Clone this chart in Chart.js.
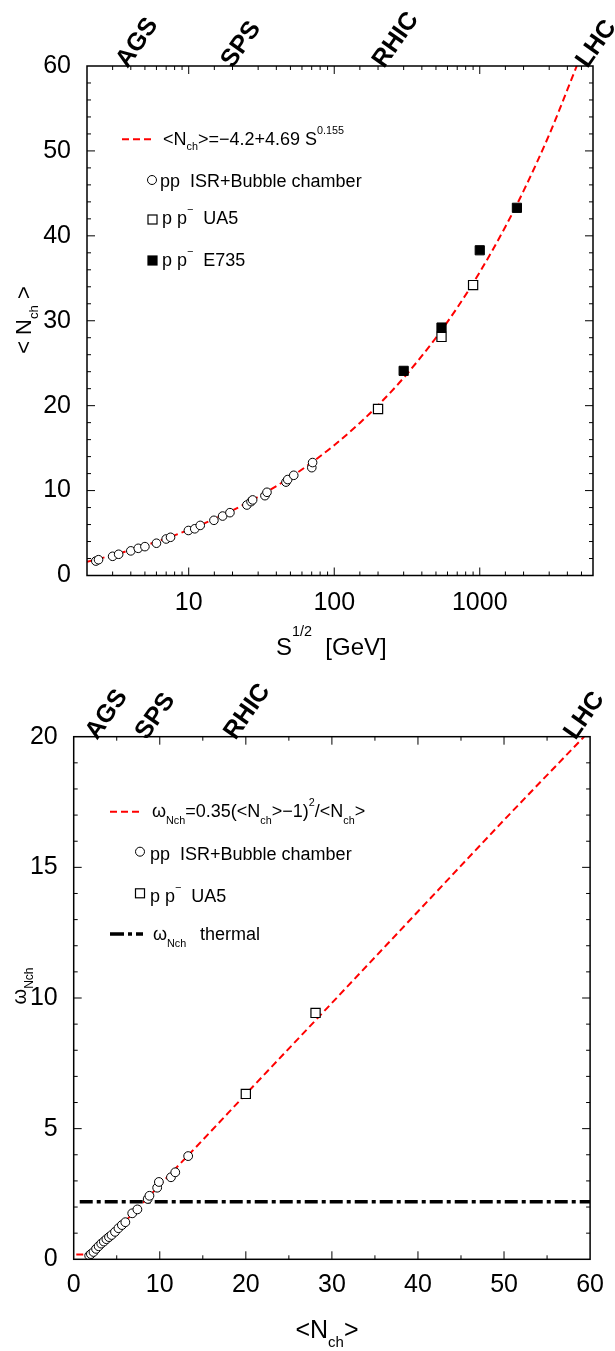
<!DOCTYPE html>
<html>
<head>
<meta charset="utf-8">
<script src="https://cdn.jsdelivr.net/npm/chart.js@4.4.1/dist/chart.umd.min.js"></script>
<style>
  body { margin: 0; background: #fff; }
  canvas { display: block; }
</style>
</head>
<body>
<canvas id="multChart" width="615" height="680"></canvas>
<canvas id="omegaChart" width="615" height="671"></canvas>
<script>
// ---- top panel: <Nch> vs sqrt(s) ----
const isrEnergy = [2.3, 2.4, 3.0, 3.3, 4.0, 4.5, 5.0, 6.0, 7.0, 7.5, 9.95, 11.0, 12.0, 14.9, 17.1, 19.2, 25.1, 26.8, 27.5, 33.4, 34.5, 46.6, 47.9, 52.7, 70.1, 71.0];
const isrMult = [1.7, 1.86, 2.26, 2.5, 2.9, 3.2, 3.4, 3.8, 4.3, 4.5, 5.3, 5.5, 5.9, 6.5, 7.0, 7.4, 8.3, 8.7, 8.9, 9.4, 9.8, 11.0, 11.3, 11.8, 12.7, 13.3];
const ua5Energy = [200, 546, 900];
const ua5Mult = [19.6, 28.1, 34.2];
const e735Energy = [300, 546, 1000, 1800];
const e735Mult = [24.1, 29.2, 38.3, 43.3];
const fitEnergy = [2, 3, 5, 7, 10, 15, 20, 30, 50, 70, 100, 150, 200, 300, 500, 700, 1000, 1500, 2000, 3000, 4640];
const fitMult = [1.61, 2.39, 3.52, 4.37, 5.38, 6.66, 7.67, 9.26, 11.57, 13.3, 15.35, 17.97, 20.04, 23.28, 28.0, 31.54, 35.72, 41.07, 45.29, 51.91, 60.0];
const energyTickLabels = [10, 100, 1000];
const multTickLabels = [0, 10, 20, 30, 40, 50, 60];

// ---- bottom panel: omega vs <Nch> ----
const isrOmegaN = [1.8, 2.0, 2.3, 2.6, 2.9, 3.2, 3.5, 3.8, 4.1, 4.4, 4.8, 5.2, 5.6, 6.0, 6.8, 7.4, 8.6, 8.8, 9.7, 9.9, 11.3, 11.8, 13.3];
const isrOmega = [0.14, 0.2, 0.28, 0.4, 0.5, 0.6, 0.68, 0.77, 0.85, 0.93, 1.05, 1.19, 1.31, 1.42, 1.76, 1.91, 2.31, 2.43, 2.74, 2.96, 3.14, 3.33, 3.95];
const ua5OmegaN = [20.0, 28.1];
const ua5Omega = [6.33, 9.43];
const fitOmegaN = [0.3, 2, 3, 5, 7, 10, 15, 20, 30, 40, 50, 59.3];
const fitOmega = [0.18, 0.2, 0.47, 1.12, 1.8, 2.84, 4.57, 6.32, 9.81, 13.31, 16.81, 20.0];
const thermalN = [0.7, 60];
const thermalOmega = [2.2, 2.2];
const nchTickLabels = [0, 10, 20, 30, 40, 50, 60];
const omegaTickLabels = [0, 5, 10, 15, 20];

// accelerator labels along the top edges
const machines = ['AGS', 'SPS', 'RHIC', 'LHC'];
const machineEnergy = [3.8, 20, 220, 5500];
const machineNch = [2.7, 8.5, 18.8, 58.3];

const NARROW = "'Liberation Sans Narrow', 'Liberation Sans', Arial, sans-serif";
const SANS = "'Liberation Sans', Arial, sans-serif";

function pts(xs, ys) {
    return xs.map((x, i) => ({ x: x, y: ys[i] }));
}

// text with sub/superscripts: parts = [[text, 0 normal | -1 sub | 1 sup], ...]
function rich(ctx, parts, x, y, size, o = {}) {
    const sub = o.sub ?? 0.3, sup = o.sup ?? 0.6, fam = o.family || SANS;
    const fontOf = k => (k ? size * 0.6 : size) + 'px ' + fam;
    ctx.textBaseline = 'alphabetic';
    ctx.textAlign = 'left';
    ctx.fillStyle = '#000';
    let w = 0;
    parts.forEach(([t, k]) => { ctx.font = fontOf(k); w += ctx.measureText(t).width; });
    let cx = o.align === 'center' ? x - w / 2 : x;
    parts.forEach(([t, k]) => {
        ctx.font = fontOf(k);
        const dy = k === -1 ? size * sub : k === 1 ? -size * sup : 0;
        ctx.fillText(t, cx, y + dy);
        cx += ctx.measureText(t).width;
    });
}

function richVertical(ctx, parts, x, y, size, o = {}) {
    ctx.save();
    ctx.translate(x, y);
    ctx.rotate(-Math.PI / 2);
    rich(ctx, parts, 0, 0, size, Object.assign({ align: 'center' }, o));
    ctx.restore();
}

function lineSample(ctx, x1, x2, y, color, width, dash) {
    ctx.save();
    ctx.strokeStyle = color;
    ctx.lineWidth = width;
    ctx.setLineDash(dash);
    ctx.beginPath();
    ctx.moveTo(x1, y);
    ctx.lineTo(x2, y);
    ctx.stroke();
    ctx.restore();
}

function circleMark(ctx, x, y, r) {
    ctx.save();
    ctx.fillStyle = '#fff';
    ctx.strokeStyle = '#000';
    ctx.lineWidth = 1;
    ctx.beginPath();
    ctx.arc(x, y, r, 0, Math.PI * 2);
    ctx.fill();
    ctx.stroke();
    ctx.restore();
}

function squareMark(ctx, x, y, side, fill) {
    ctx.save();
    ctx.fillStyle = fill;
    ctx.strokeStyle = '#000';
    ctx.lineWidth = 1.2;
    ctx.fillRect(x - side / 2, y - side / 2, side, side);
    ctx.strokeRect(x - side / 2, y - side / 2, side, side);
    ctx.restore();
}

function machineLabel(ctx, text, x, y) {
    ctx.save();
    ctx.translate(x, y);
    ctx.rotate(-55 * Math.PI / 180);
    ctx.font = 'bold 25px ' + SANS;
    ctx.fillStyle = '#000';
    ctx.textAlign = 'left';
    ctx.textBaseline = 'alphabetic';
    ctx.fillText(text, 0, 0);
    ctx.restore();
}

// frame with inward ticks on all four sides, plus overlay text
function framePlugin(isMajorX, isMajorY, overlay) {
    return {
        id: 'frame',
        afterDatasetsDraw(chart) {
            const { ctx, chartArea: a, scales: { x, y } } = chart;
            ctx.save();
            ctx.strokeStyle = '#000';
            ctx.lineWidth = 1;
            ctx.beginPath();
            x.ticks.forEach(t => {
                const px = x.getPixelForValue(t.value);
                if (px < a.left + 1 || px > a.right - 1) return;
                const len = isMajorX(t.value) ? 8 : 4;
                ctx.moveTo(px, a.bottom); ctx.lineTo(px, a.bottom - len);
                ctx.moveTo(px, a.top); ctx.lineTo(px, a.top + len);
            });
            y.ticks.forEach(t => {
                const py = y.getPixelForValue(t.value);
                if (py < a.top + 1 || py > a.bottom - 1) return;
                const len = isMajorY(t.value) ? 8 : 4;
                ctx.moveTo(a.left, py); ctx.lineTo(a.left + len, py);
                ctx.moveTo(a.right, py); ctx.lineTo(a.right - len, py);
            });
            ctx.stroke();
            ctx.lineWidth = 1.5;
            ctx.strokeRect(a.left, a.top, a.right - a.left, a.bottom - a.top);
            ctx.restore();
        },
        afterDraw(chart) {
            chart.ctx.save();
            overlay(chart);
            chart.ctx.restore();
        }
    };
}

const tickFont = { family: NARROW, size: 25 };

// Top chart
new Chart(document.getElementById('multChart'), {
    type: 'scatter',
    data: {
        datasets: [
            { data: pts(isrEnergy, isrMult), pointStyle: 'circle', pointRadius: 4.3, borderWidth: 1,
              borderColor: '#000', backgroundColor: '#fff', order: 0 },
            { data: pts(ua5Energy, ua5Mult), pointStyle: 'rect', pointRadius: 6.5, borderWidth: 1.2,
              borderColor: '#000', backgroundColor: '#fff', order: 1 },
            { data: pts(e735Energy, e735Mult), pointStyle: 'rect', pointRadius: 6.5, borderWidth: 1,
              borderColor: '#000', backgroundColor: '#000', order: 0 },
            { data: pts(fitEnergy, fitMult), showLine: true, pointRadius: 0, borderColor: '#ff0000',
              borderWidth: 2, borderDash: [7, 4], cubicInterpolationMode: 'monotone', fill: false, order: 5 }
        ]
    },
    options: {
        responsive: false,
        animation: false,
        events: [],
        layout: { padding: { top: 66, right: 22, left: 0, bottom: 0 } },
        plugins: { legend: { display: false }, tooltip: { enabled: false } },
        scales: {
            x: {
                type: 'logarithmic', min: 2, max: 6000,
                grid: { display: false, drawTicks: false },
                border: { display: false },
                ticks: {
                    autoSkip: false, maxRotation: 0, padding: 13, color: '#000', font: tickFont,
                    callback: v => energyTickLabels.some(t => Math.abs(v - t) < 1e-6 * t) ? String(Math.round(v)) : ''
                },
                afterFit: s => { s.height = 104.5; }
            },
            y: {
                min: 0, max: 60,
                grid: { display: false, drawTicks: false },
                border: { display: false },
                ticks: {
                    stepSize: 2, autoSkip: false, padding: 16, color: '#000', font: tickFont,
                    callback: v => multTickLabels.includes(v) ? String(v) : ''
                },
                afterFit: s => { s.width = 87; }
            }
        }
    },
    plugins: [framePlugin(
        v => Math.abs(Math.log10(v) - Math.round(Math.log10(v))) < 1e-6,
        v => v % 10 === 0,
        chart => {
            const { ctx, chartArea: a, scales: { x } } = chart;
            // legend
            lineSample(ctx, 122, 154, 139.3, '#ff0000', 2, [7, 4]);
            rich(ctx, [['<N', 0], ['ch', -1], ['>=\u22124.2+4.69 S', 0], ['0.155', 1]], 163, 145, 18, { sub: 0.25 });
            circleMark(ctx, 152, 180, 4.5);
            rich(ctx, [['pp  ISR+Bubble chamber', 0]], 160, 187, 18);
            squareMark(ctx, 152.5, 219.5, 9, '#fff');
            rich(ctx, [['p p', 0], ['\u2212', 1], ['  UA5', 0]], 162, 224, 18);
            squareMark(ctx, 152.5, 260.5, 9, '#000');
            rich(ctx, [['p p', 0], ['\u2212', 1], ['  E735', 0]], 162, 266, 18);
            // axis titles
            rich(ctx, [['S', 0], ['1/2', 1], ['  [GeV]', 0]], 276, 655, 24, { sup: 0.8 });
            richVertical(ctx, [['< N', 0], ['ch', -1], [' >', 0]], 31, 320, 22);
            // accelerators
            machines.forEach((m, i) => machineLabel(ctx, m, x.getPixelForValue(machineEnergy[i]), a.top + 3));
        }
    )]
});

// Bottom chart
new Chart(document.getElementById('omegaChart'), {
    type: 'scatter',
    data: {
        datasets: [
            { data: pts(isrOmegaN, isrOmega), pointStyle: 'circle', pointRadius: 4.4, borderWidth: 1,
              borderColor: '#000', backgroundColor: '#fff', order: 0 },
            { data: pts(ua5OmegaN, ua5Omega), pointStyle: 'rect', pointRadius: 6.5, borderWidth: 1.2,
              borderColor: '#000', backgroundColor: '#fff', order: 0 },
            { data: pts(thermalN, thermalOmega), showLine: true, pointRadius: 0, borderColor: '#000',
              borderWidth: 3.5, borderDash: [13, 4, 4, 4], fill: false, order: 4 },
            { data: pts(fitOmegaN, fitOmega), showLine: true, pointRadius: 0, borderColor: '#ff0000',
              borderWidth: 2, borderDash: [7, 4], cubicInterpolationMode: 'monotone', fill: false, order: 5 }
        ]
    },
    options: {
        responsive: false,
        animation: false,
        events: [],
        layout: { padding: { top: 56.7, right: 23.3, left: 0, bottom: 0 } },
        plugins: { legend: { display: false }, tooltip: { enabled: false } },
        scales: {
            x: {
                min: 0, max: 60,
                grid: { display: false, drawTicks: false },
                border: { display: false },
                ticks: {
                    stepSize: 5, autoSkip: false, maxRotation: 0, padding: 11, color: '#000', font: tickFont,
                    callback: v => nchTickLabels.includes(v) ? String(v) : ''
                },
                afterFit: s => { s.height = 91.7; }
            },
            y: {
                min: 0, max: 20,
                grid: { display: false, drawTicks: false },
                border: { display: false },
                ticks: {
                    stepSize: 1, autoSkip: false, padding: 16, color: '#000', font: tickFont,
                    callback: v => omegaTickLabels.includes(v) ? String(v) : ''
                },
                afterFit: s => { s.width = 73.7; }
            }
        }
    },
    plugins: [framePlugin(
        v => v % 10 === 0,
        v => v % 5 === 0,
        chart => {
            const { ctx, chartArea: a, scales: { x } } = chart;
            const oy = -680;
            // legend
            lineSample(ctx, 110, 143, 811.7 + oy, '#ff0000', 2, [7, 4]);
            rich(ctx, [['\u03c9', 0], ['Nch', -1], ['=0.35(<N', 0], ['ch', -1], ['>\u22121)', 0], ['2', 1], ['/<N', 0], ['ch', -1], ['>', 0]],
                152, 817 + oy, 18, { sub: 0.38 });
            circleMark(ctx, 140, 851.7 + oy, 4.5);
            rich(ctx, [['pp  ISR+Bubble chamber', 0]], 150, 860 + oy, 18);
            squareMark(ctx, 140, 893.3 + oy, 9, '#fff');
            rich(ctx, [['p p', 0], ['\u2212', 1], ['  UA5', 0]], 150, 901.7 + oy, 18);
            lineSample(ctx, 110, 143, 934 + oy, '#000', 3.5, [14, 4, 4, 4]);
            rich(ctx, [['\u03c9', 0], ['Nch', -1]], 153, 940 + oy, 18, { sub: 0.38 });
            rich(ctx, [['thermal', 0]], 200, 940 + oy, 18);
            // axis titles
            rich(ctx, [['<N', 0], ['ch', -1], ['>', 0]], 327, 1338 + oy, 25, { align: 'center', sub: 0.36 });
            richVertical(ctx, [['\u03c9', 0], ['Nch', -1]], 26, 986 + oy, 20, { sub: 0.35 });
            // accelerators
            machines.forEach((m, i) => machineLabel(ctx, m, x.getPixelForValue(machineNch[i]), a.top + 4));
        }
    )]
});
</script>
</body>
</html>
